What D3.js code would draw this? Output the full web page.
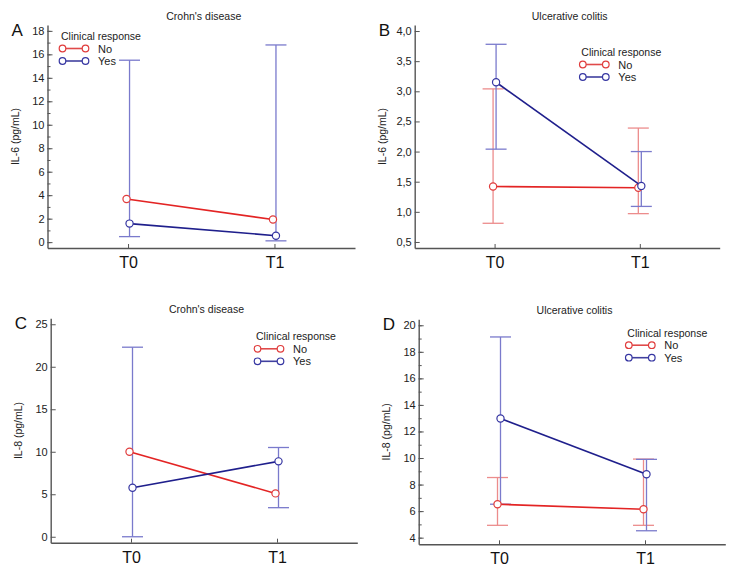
<!DOCTYPE html>
<html>
<head>
<meta charset="utf-8">
<script src="https://cdn.jsdelivr.net/npm/d3@7"></script>
<style>
  body { margin: 0; background: #fff; }
  svg { font-family: "Liberation Sans", Arial, sans-serif; }
</style>
</head>
<body>
<div id="chart"></div>
<script>
// time points
const timepoints = ["T0", "T1"];
const seriesNames = ["No", "Yes"];

// A: IL-6, Crohn's disease
const il6CdNo = [3.68, 1.93];
const il6CdYes = [1.58, 0.55];
const il6CdYesLow = [0.47, 0.11];
const il6CdYesHigh = [15.5, 16.8];
const il6CdTicks = [0, 2, 4, 6, 8, 10, 12, 14, 16, 18];

// B: IL-6, ulcerative colitis
const il6UcNo = [1.42, 1.40];
const il6UcNoLow = [0.81, 0.97];
const il6UcNoHigh = [3.04, 2.39];
const il6UcYes = [3.15, 1.43];
const il6UcYesLow = [2.04, 1.09];
const il6UcYesHigh = [3.78, 2.0];
const il6UcTicks = [0.5, 1.0, 1.5, 2.0, 2.5, 3.0, 3.5, 4.0];

// C: IL-8, Crohn's disease
const il8CdNo = [10.0, 5.1];
const il8CdYes = [5.77, 8.87];
const il8CdYesLow = [0.0, 3.42];
const il8CdYesHigh = [22.3, 10.5];
const il8CdTicks = [0, 5, 10, 15, 20, 25];

// D: IL-8, ulcerative colitis
const il8UcNo = [6.52, 6.14];
const il8UcNoLow = [4.93, 4.93];
const il8UcNoHigh = [8.53, 9.92];
const il8UcYes = [12.98, 8.78];
const il8UcYesLow = [6.52, 4.52];
const il8UcYesHigh = [19.12, 9.9];
const il8UcTicks = [4, 6, 8, 10, 12, 14, 16, 18, 20];

const colors = {
  No: { line: "#e32424", mark: "#e03c3c", bar: "#ec8c8c", legend: "#e04a4a" },
  Yes: { line: "#1f1f8c", mark: "#3636a2", bar: "#7a7acc", legend: "#40409f" }
};

const svg = d3.select("#chart").append("svg")
  .attr("width", 736)
  .attr("height", 570);

function drawPanel(p) {
  const g = svg.append("g");

  const x = d3.scalePoint()
    .domain(timepoints)
    .range([p.left, p.right])
    .padding(0.55);

  const y = d3.scaleLinear()
    .domain(p.yDomain)
    .range([p.bottom, p.top]);

  // minor ticks
  if (p.minor) {
    g.append("g")
      .attr("transform", `translate(${p.left},0)`)
      .call(d3.axisLeft(y).tickValues(d3.range(p.minor[0], p.minor[1] + 0.001, p.minor[2]))
        .tickSize(-3).tickSizeOuter(0).tickFormat(""))
      .call(a => a.select(".domain").remove())
      .selectAll("line").attr("stroke", "#555");
  }

  // y axis
  const ya = g.append("g")
    .attr("transform", `translate(${p.left},0)`)
    .call(d3.axisLeft(y).tickValues(p.ticks).tickSize(-5).tickSizeOuter(0).tickPadding(3)
      .tickFormat(p.fmt));
  ya.select(".domain").attr("stroke", "#555").attr("stroke-width", 1.4);
  ya.selectAll(".tick line").attr("stroke", "#555");
  ya.selectAll("text").attr("font-size", 11).attr("fill", "#222")
    .attr("font-family", "Liberation Sans, Arial, sans-serif");

  // x axis
  const xa = g.append("g")
    .attr("transform", `translate(0,${p.bottom})`)
    .call(d3.axisBottom(x).tickSize(-4).tickSizeOuter(0).tickPadding(8.5));
  xa.select(".domain").attr("stroke", "#555").attr("stroke-width", 1.4);
  xa.selectAll(".tick line").attr("stroke", "#555");
  xa.selectAll("text").attr("font-size", 16).attr("fill", "#111")
    .attr("font-family", "Liberation Sans, Arial, sans-serif");

  // titles
  g.append("text")
    .attr("x", (p.left + p.right) / 2 + 2.5)
    .attr("y", p.top - 5)
    .attr("text-anchor", "middle")
    .attr("font-size", 10.5)
    .attr("fill", "#222")
    .text(p.title);

  g.append("text")
    .attr("x", p.left - 36)
    .attr("y", p.top + 10.5)
    .attr("font-size", 17)
    .attr("fill", "#111")
    .text(p.letter);

  g.append("text")
    .attr("transform", "rotate(-90)")
    .attr("x", -((p.top + p.bottom) / 2))
    .attr("y", p.left - 28.5)
    .attr("text-anchor", "middle")
    .attr("font-size", 10.5)
    .attr("fill", "#222")
    .text(p.ylabel);

  const dodge = { No: -1.5, Yes: 1.5 };

  // error bars
  p.series.forEach(s => {
    if (!s.low) return;
    const c = colors[s.name];
    const data = timepoints.map((t, i) => ({ t, lo: s.low[i], hi: s.high[i] }));
    const eb = g.append("g").attr("stroke", c.bar).attr("stroke-width", 1.3).attr("fill", "none");
    eb.selectAll(".v").data(data).enter().append("line")
      .attr("x1", d => x(d.t) + dodge[s.name])
      .attr("x2", d => x(d.t) + dodge[s.name])
      .attr("y1", d => y(d.lo))
      .attr("y2", d => y(d.hi));
    ["lo", "hi"].forEach(k => {
      eb.selectAll(".c" + k).data(data).enter().append("line")
        .attr("x1", d => x(d.t) + dodge[s.name] - 10.5)
        .attr("x2", d => x(d.t) + dodge[s.name] + 10.5)
        .attr("y1", d => y(d[k]))
        .attr("y2", d => y(d[k]));
    });
  });

  // lines and markers
  p.series.forEach(s => {
    const c = colors[s.name];
    const data = timepoints.map((t, i) => ({ t, v: s.values[i] }));
    const line = d3.line().x(d => x(d.t) + dodge[s.name]).y(d => y(d.v));
    g.append("path")
      .datum(data)
      .attr("d", line)
      .attr("fill", "none")
      .attr("stroke", c.line)
      .attr("stroke-width", 1.6);
    g.selectAll(null).data(data).enter().append("circle")
      .attr("cx", d => x(d.t) + dodge[s.name])
      .attr("cy", d => y(d.v))
      .attr("r", 3.6)
      .attr("fill", "#fff")
      .attr("stroke", c.mark)
      .attr("stroke-width", 1.2);
  });

  // legend
  const lg = g.append("g").attr("transform", `translate(${p.legend[0]},${p.legend[1]})`);
  lg.append("text")
    .attr("x", 0).attr("y", 0)
    .attr("font-size", 10.5)
    .attr("fill", "#222")
    .text("Clinical response");
  seriesNames.forEach((name, i) => {
    const ly = 8.5 + i * 12.5;
    const c = colors[name];
    lg.append("line")
      .attr("x1", 1.5).attr("x2", 24.5)
      .attr("y1", ly).attr("y2", ly)
      .attr("stroke", c.legend).attr("stroke-width", 1.6);
    [1.5, 24.5].forEach(cx => {
      lg.append("circle")
        .attr("cx", cx).attr("cy", ly).attr("r", 3.3)
        .attr("fill", "#fff").attr("stroke", c.mark).attr("stroke-width", 1.2);
    });
    lg.append("text")
      .attr("x", 37).attr("y", ly + 4)
      .attr("font-size", 11)
      .attr("fill", "#222")
      .text(name);
  });
}

const fmtInt = d3.format("d");
const fmtComma = d => d3.format(".1f")(d).replace(".", ",");

drawPanel({
  letter: "A", title: "Crohn's disease", ylabel: "IL-6 (pg/mL)",
  left: 47.5, right: 355, top: 25, bottom: 248,
  yDomain: [-0.5, 18.5], ticks: il6CdTicks, minor: [0, 18, 1], fmt: fmtInt,
  legend: [61, 40],
  series: [
    { name: "No", values: il6CdNo },
    { name: "Yes", values: il6CdYes, low: il6CdYesLow, high: il6CdYesHigh }
  ]
});

drawPanel({
  letter: "B", title: "Ulcerative colitis", ylabel: "IL-6 (pg/mL)",
  left: 414.7, right: 719.7, top: 25, bottom: 248,
  yDomain: [0.4, 4.1], ticks: il6UcTicks, minor: null, fmt: fmtComma,
  legend: [581.3, 56],
  series: [
    { name: "No", values: il6UcNo, low: il6UcNoLow, high: il6UcNoHigh },
    { name: "Yes", values: il6UcYes, low: il6UcYesLow, high: il6UcYesHigh }
  ]
});

drawPanel({
  letter: "C", title: "Crohn's disease", ylabel: "IL-8 (pg/mL)",
  left: 50.7, right: 357.3, top: 318.3, bottom: 542.7,
  yDomain: [-0.7, 25.7], ticks: il8CdTicks, minor: null, fmt: fmtInt,
  legend: [256, 340.3],
  series: [
    { name: "No", values: il8CdNo },
    { name: "Yes", values: il8CdYes, low: il8CdYesLow, high: il8CdYesHigh }
  ]
});

drawPanel({
  letter: "D", title: "Ulcerative colitis", ylabel: "IL-8 (pg/mL)",
  left: 418.7, right: 725.3, top: 319.3, bottom: 544.3,
  yDomain: [3.5, 20.45], ticks: il8UcTicks, minor: [4, 20, 1], fmt: fmtInt,
  legend: [627.3, 336.7],
  series: [
    { name: "No", values: il8UcNo, low: il8UcNoLow, high: il8UcNoHigh },
    { name: "Yes", values: il8UcYes, low: il8UcYesLow, high: il8UcYesHigh }
  ]
});
</script>
</body>
</html>
